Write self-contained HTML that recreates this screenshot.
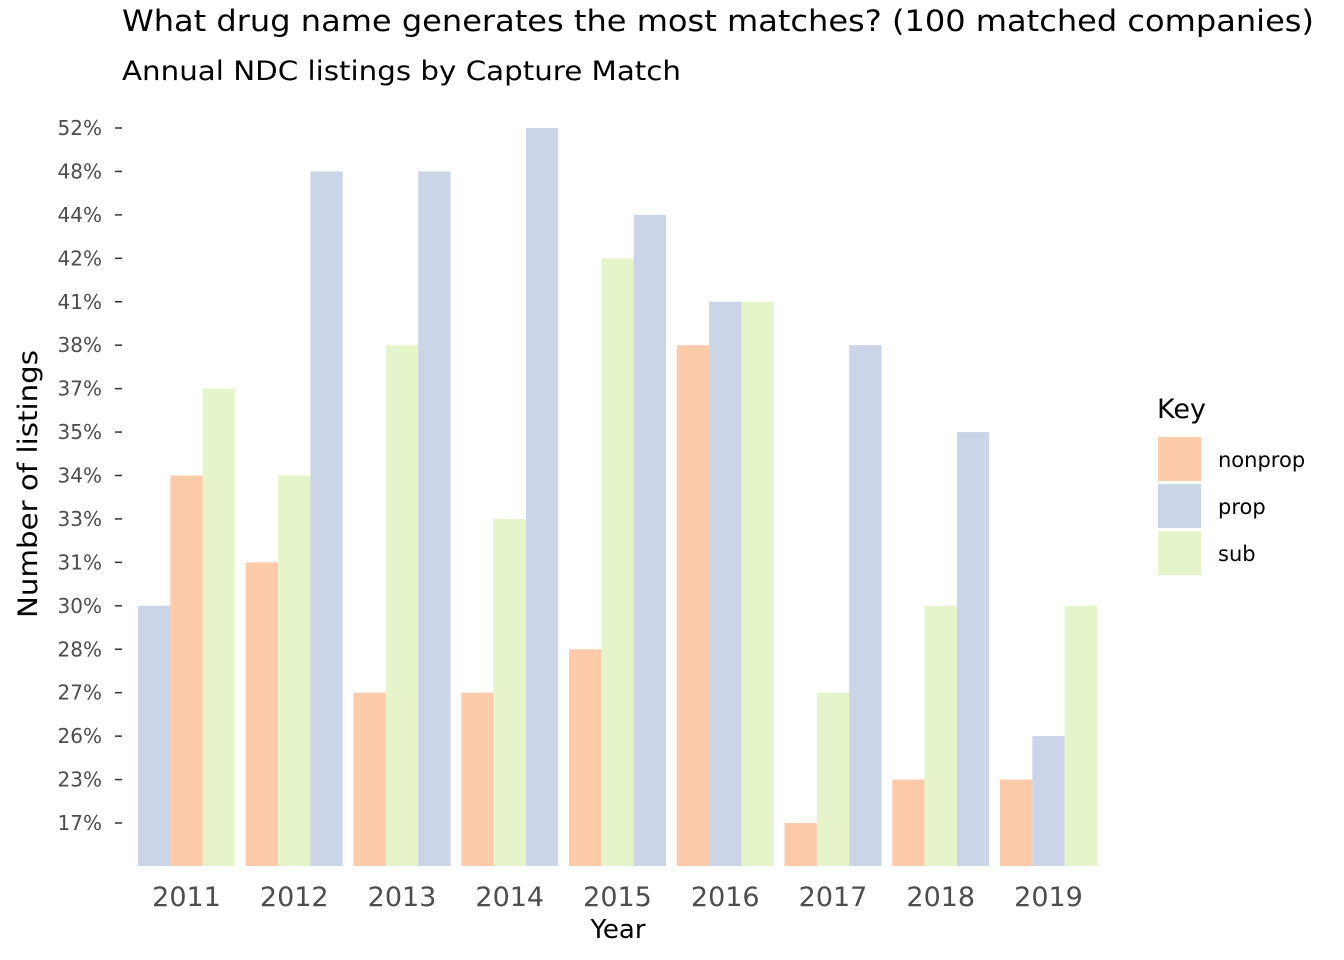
<!DOCTYPE html>
<html><head><meta charset="utf-8"><style>body{margin:0;background:#fff}svg{display:block;font-family:"DejaVu Sans","Liberation Sans",sans-serif}</style></head>
<body>
<svg id="chart" width="1344" height="960" viewBox="0 0 1344 960">
<text x="122" y="31" font-size="29" textLength="1192" lengthAdjust="spacingAndGlyphs" fill="#000">What drug name generates the most matches? (100 matched companies)</text>
<text x="122" y="80" font-size="27" textLength="559" lengthAdjust="spacingAndGlyphs" fill="#000">Annual NDC listings by Capture Match</text>
<g id="yaxis"></g>
<g id="bars"></g>
<g id="xaxis"></g>
<text x="618" y="938" font-size="26" text-anchor="middle">Year</text>
<text transform="translate(37,484) rotate(-90)" font-size="27" text-anchor="middle" textLength="268" lengthAdjust="spacingAndGlyphs">Number of listings</text>
<g id="legend">
<text x="1157" y="418" font-size="27">Key</text>
</g>
</svg>
<script>
const years = ["2011","2012","2013","2014","2015","2016","2017","2018","2019"];
const keys = ["nonprop","prop","sub"];
const nonpropVals = [34,31,27,27,28,38,17,23,23];
const propVals = [30,48,48,52,44,41,38,35,26];
const subVals = [37,34,38,33,42,41,27,30,30];
const yTickLabels = [17,23,26,27,28,30,31,33,34,35,37,38,41,42,44,48,52];
const colors = {nonprop:"#fdcbaa",prop:"#cbd5e8",sub:"#e6f5c9"};
const NS="http://www.w3.org/2000/svg";
function mk(t,a,p){const e=document.createElementNS(NS,t);for(const k in a)e.setAttribute(k,a[k]);p.appendChild(e);return e;}
const y0=866, yTop=128, yBottomTick=823, step=(yBottomTick-yTop)/(yTickLabels.length-1);
function yScale(v){const i=yTickLabels.indexOf(v);if(i>=0)return yBottomTick-i*step;
  for(let j=0;j<yTickLabels.length-1;j++){if(v>yTickLabels[j]&&v<yTickLabels[j+1])return yBottomTick-(j+(v-yTickLabels[j])/(yTickLabels[j+1]-yTickLabels[j]))*step;}
  return v<yTickLabels[0]?yBottomTick+step*0.5:yTop;}
const x0=186.5, xStep=107.75, groupW=97;
function xScale(i){return x0+i*xStep;}
const ya=document.getElementById('yaxis');
yTickLabels.forEach(v=>{const y=yScale(v);
  const l=mk('line',{x1:115,x2:122,y1:y,y2:y,stroke:'#333','stroke-width':1.5},ya);
  
  
  const t=mk('text',{x:102,y:y+7,'font-size':20,'text-anchor':'end',fill:'#4d4d4d'},ya);t.textContent=v+'%';
  
  
});
const bg=document.getElementById('bars');
const xa=document.getElementById('xaxis');
years.forEach((yr,i)=>{
  const vals={nonprop:nonpropVals[i],prop:propVals[i],sub:subVals[i]};
  const order=keys.slice().sort((a,b)=>vals[a]-vals[b]);
  const bw=groupW/3, left=xScale(i)-groupW/2;
  order.forEach((k,j)=>{const y=yScale(vals[k]);
    const r=mk('rect',{x:left+j*bw,y:y,width:bw,height:y0-y,fill:colors[k]},bg);
    
    
  });
  const t=mk('text',{x:xScale(i),y:906,'font-size':27,'text-anchor':'middle',fill:'#4d4d4d'},xa);t.textContent=yr;
  
  
});
const lg=document.getElementById('legend');
keys.forEach((k,i)=>{const y=437+i*47;
  const r=mk('rect',{x:1158,y:y,width:43,height:44,fill:colors[k]},lg);
  
  
  const t=mk('text',{x:1218,y:y+30,'font-size':21},lg);t.textContent=k;
  
  
});
</script>
</body></html>
